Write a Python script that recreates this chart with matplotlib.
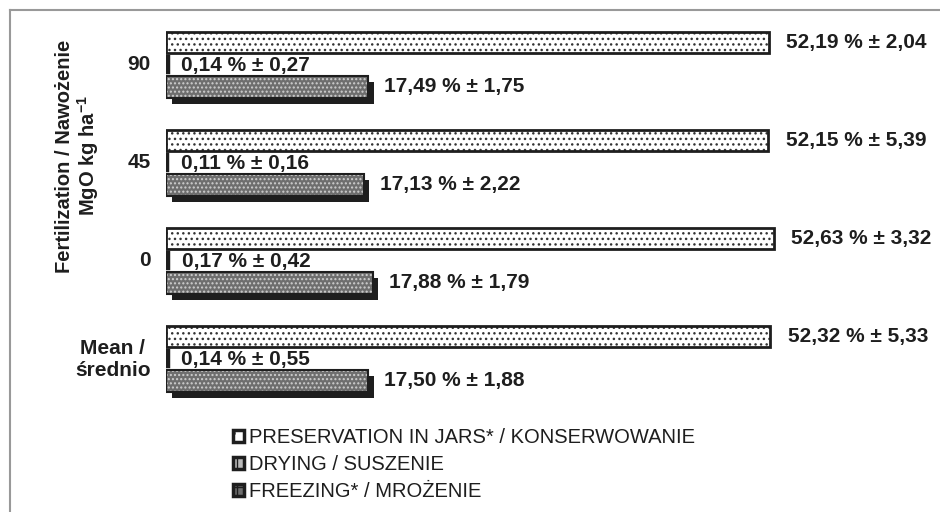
import numpy as np
import matplotlib
matplotlib.use('Agg')
import matplotlib.pyplot as plt
import matplotlib.patheffects as pe
from matplotlib.patches import Patch
from matplotlib.lines import Line2D

plt.rcParams['font.family'] = ['Liberation Sans', 'DejaVu Sans']
plt.rcParams['mathtext.fontset'] = 'custom'
plt.rcParams['mathtext.bf'] = 'Liberation Sans:bold'
plt.rcParams['hatch.linewidth'] = 1.0

# data
groups = ['90', '45', '0', 'Mean /\nśrednio']
jars = [52.19, 52.15, 52.63, 52.32]
jars_sd = [2.04, 5.39, 3.32, 5.33]
drying = [0.14, 0.11, 0.17, 0.14]
drying_sd = [0.27, 0.16, 0.42, 0.55]
freezing = [17.49, 17.13, 17.88, 17.50]
freezing_sd = [1.75, 2.22, 1.79, 1.88]
legend_labels = ['PRESERVATION IN JARS* / KONSERWOWANIE',
                 'DRYING / SUSZENIE',
                 'FREEZING* / MROŻENIE']


def fmt(v, sd):
    return ('%.2f %% ± %.2f' % (v, sd)).replace('.', ',')


fig = plt.figure(figsize=(9.4, 5.12), dpi=100)
W, H = 940, 512
ax = fig.add_axes([166 / W, 1 - 405 / H, 1 - 166 / W, (405 - 13) / H])
scale = 11.55  # px per unit
ax.set_xlim(0, (W - 166) / scale)
ax.set_ylim(3.5, -0.5)

y = np.arange(len(groups))
dark = '#1e1e1e'
shadow = [pe.SimplePatchShadow(offset=(4, -4.5), shadow_rgbFace=dark, alpha=1)]

# preservation in jars
ax.barh(y - 0.2, jars, height=0.21, color='white', edgecolor='#333333', hatch='...', linewidth=0, zorder=2)
ax.barh(y - 0.2, jars, height=0.21, fill=False, edgecolor=dark, linewidth=2, zorder=3)
# drying
ax.barh(y + 0.025, drying, height=0.15, color=dark, edgecolor=dark, linewidth=3.2, zorder=3)
# freezing (shadow, hatched fill, outline)
ax.barh(y + 0.255, freezing, height=0.22, color=dark, linewidth=0, path_effects=shadow, zorder=1)
ax.barh(y + 0.255, freezing, height=0.22, color='#6e6e6e', edgecolor='#cfcfcf', hatch='....',
        linewidth=0, zorder=2)
ax.barh(y + 0.255, freezing, height=0.22, fill=False, edgecolor=dark, linewidth=1.5, zorder=3)

for i in range(len(groups)):
    ax.text(jars[i] + 1.5, y[i] - 0.2, fmt(jars[i], jars_sd[i]), ha='left', va='center',
            fontsize=15, fontweight='bold', color=dark)
    ax.text(drying[i] + 1.2, y[i] + 0.04, fmt(drying[i], drying_sd[i]), ha='left', va='center',
            fontsize=15, fontweight='bold', color=dark, zorder=4)
    ax.text(freezing[i] + 1.4, y[i] + 0.255, fmt(freezing[i], freezing_sd[i]), ha='left', va='center',
            fontsize=15, fontweight='bold', color=dark)

ax.set_yticks(y)
ax.set_yticklabels(groups, fontsize=15, fontweight='bold', color=dark, multialignment='center')
ax.tick_params(axis='y', length=0, pad=11)
ax.set_xticks([])
for s in ax.spines.values():
    s.set_visible(False)

fig.text(78 / W, 1 - 156 / H, 'Fertilization / Nawożenie\nMgO kg ha$^{\\mathbf{-1}}$', rotation=90,
         ha='center', va='center', fontsize=14.5, fontweight='bold', color=dark,
         multialignment='center', linespacing=1.1)

handles = [Patch(facecolor='white', edgecolor=dark, hatch='.', linewidth=2.5),
           Patch(facecolor='#bbbbbb', edgecolor=dark, hatch='||', linewidth=2.5),
           Patch(facecolor='#6e6e6e', edgecolor=dark, hatch='++', linewidth=2.5)]
fig.legend(handles, legend_labels, loc='upper left', bbox_to_anchor=(215 / W, 1 - 410 / H),
           frameon=False, fontsize=14.5, handlelength=0.55, handleheight=0.55, handletextpad=0.25,
           labelspacing=0.4, labelcolor=dark)

# page frame
fig.add_artist(Line2D([10 / W, 1], [1 - 10 / H, 1 - 10 / H], color='#999999', linewidth=1.5,
                      transform=fig.transFigure))
fig.add_artist(Line2D([10 / W, 10 / W], [0, 1 - 10 / H], color='#999999', linewidth=1.5,
                      transform=fig.transFigure))

fig.savefig('out.png', dpi=100)
